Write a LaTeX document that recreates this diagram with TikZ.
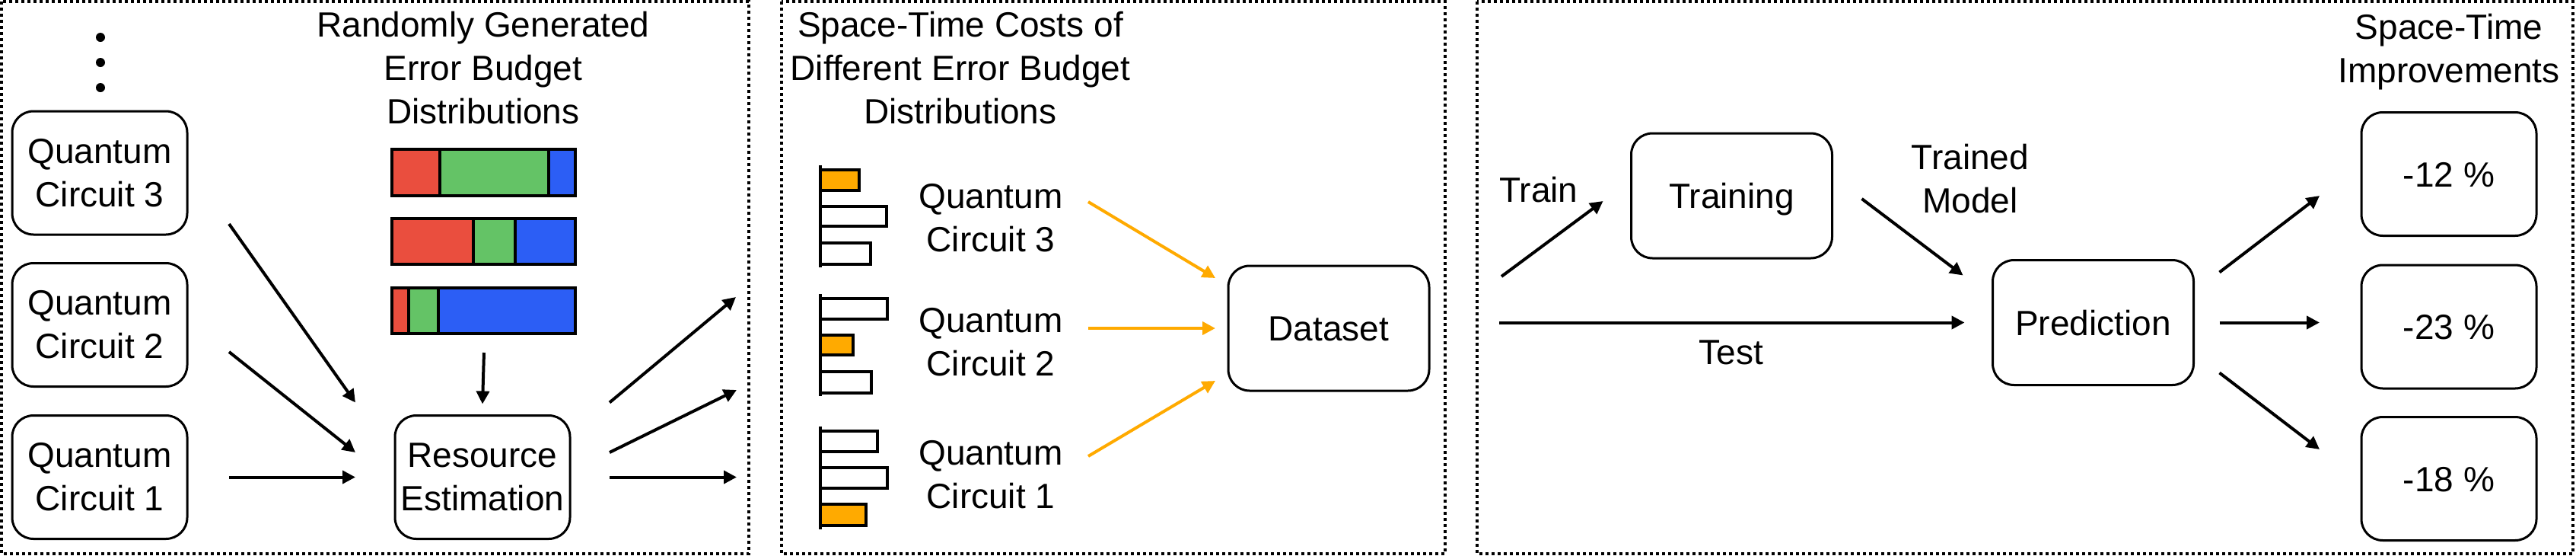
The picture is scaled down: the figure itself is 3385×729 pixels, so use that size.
\documentclass[tikz,border=0pt]{standalone}
\usepackage{fontspec}
\setmainfont{Liberation Sans}
\usetikzlibrary{arrows.meta,calc}
\definecolor{ebred}{RGB}{234,78,62}
\definecolor{ebgreen}{RGB}{100,195,102}
\definecolor{ebblue}{RGB}{44,94,245}
\definecolor{ebor}{RGB}{255,170,0}
\begin{document}
\begin{tikzpicture}[x=0.5pt,y=-0.5pt,
  every node/.style={font=\fontsize{23}{28.5}\selectfont, inner sep=0pt, outer sep=0pt},
  panel/.style={line width=2pt, dash pattern=on 2pt off 2pt},
  box/.style={draw, line width=1.5pt, rounded corners=14pt, minimum width=115pt, minimum height=81pt, align=center},
  onebox/.style={box, text height=16.8pt, text depth=0pt},
  widebox/.style={onebox, minimum width=132pt, minimum height=82pt},
  arr/.style={line width=2pt, -{Triangle[length=8.5pt,width=8.5pt]}},
  oarr/.style={arr, color=ebor},
  lab/.style={align=center},
  barln/.style={line width=2pt},
]
\useasboundingbox (0,0) rectangle (3385,729);

% panels
\draw[panel] (2,2) rectangle (984,727);
\draw[panel] (1027,2) rectangle (1899,727);
\draw[panel] (1941,2) rectangle (3381,727);

% ---------- panel 1 ----------
\fill (132,49) circle[radius=3pt];
\fill (132,82) circle[radius=3pt];
\fill (132,115) circle[radius=3pt];

\node[box] (qc3) at (131,227) {Quantum\\Circuit 3};
\node[box] (qc2) at (131,426.5) {Quantum\\Circuit 2};
\node[box] (qc1) at (131,626.5) {Quantum\\Circuit 1};
\node[box] (re) at (634,626.5) {Resource\\Estimation};
\node[lab] (t1) at (635,89) {Randomly Generated\\Error Budget\\Distributions};

% error budget bars
\draw[barln, fill=ebred]   (515,196) rectangle (578,257);
\draw[barln, fill=ebgreen] (578,196) rectangle (721,257);
\draw[barln, fill=ebblue]  (721,196) rectangle (756,257);
\draw[barln, fill=ebred]   (515,287) rectangle (622,347);
\draw[barln, fill=ebgreen] (622,287) rectangle (677,347);
\draw[barln, fill=ebblue]  (677,287) rectangle (756,347);
\draw[barln, fill=ebred]   (515,378) rectangle (537,438);
\draw[barln, fill=ebgreen] (537,378) rectangle (576,438);
\draw[barln, fill=ebblue]  (576,378) rectangle (756,438);
\coordinate (bars) at (636,438);

\draw[arr] ([shift={(55,-14)}]qc3.south east) -- ([shift={(-52,-17)}]re.north west);
\draw[arr] ([shift={(55,35.5)}]qc2.east) -- ([shift={(-52,-32.5)}]re.west);
\draw[arr] ([shift={(55,0)}]qc1.east) -- ([shift={(-52,0)}]re.west);
\draw[arr] ([shift={(0,25)}]bars) -- ([shift={(0,-15)}]re.north);
\coordinate (o1) at (967,390);
\coordinate (o2) at (968,512);
\coordinate (o3) at (968,626.5);
\draw[arr] ([shift={(52,-17)}]re.north east) -- (o1);
\draw[arr] ([shift={(52,-32.5)}]re.east) -- (o2);
\draw[arr] ([shift={(52,0)}]re.east) -- (o3);

% ---------- panel 2 ----------
\node[lab] (t2) at (1262,89) {Space-Time Costs of\\Different Error Budget\\Distributions};

% chart 3
\draw[barln, fill=ebor] (1078,223) rectangle (1129,250);
\draw[barln] (1078,271) rectangle (1165,297);
\draw[barln] (1078,319) rectangle (1144,347);
\draw[barln] (1078,217) -- (1078,351);
% chart 2
\draw[barln] (1078,392) rectangle (1166,419);
\draw[barln, fill=ebor] (1078,440) rectangle (1121,466);
\draw[barln] (1078,488) rectangle (1145,516);
\draw[barln] (1078,386) -- (1078,520);
% chart 1
\draw[barln] (1078,566) rectangle (1153,593);
\draw[barln] (1078,614) rectangle (1166,641);
\draw[barln, fill=ebor] (1078,662) rectangle (1138,690);
\draw[barln] (1078,560) -- (1078,695);

\node[lab] (l3) at (1302,286) {Quantum\\Circuit 3};
\node[lab] (l2) at (1302,449) {Quantum\\Circuit 2};
\node[lab] (l1) at (1302,623) {Quantum\\Circuit 1};
\node[widebox] (ds) at (1746,431) {Dataset};

\draw[oarr] ([shift={(128,-21)}]l3.center) -- ([shift={(-17,16)}]ds.north west);
\draw[oarr] ([shift={(128,-18)}]l2.center) -- ([shift={(-17,0)}]ds.west);
\draw[oarr] ([shift={(128,-24)}]l1.center) -- ([shift={(-17,-13)}]ds.south west);

% ---------- panel 3 ----------
\node[lab] (t3) at (3218,68) {Space-Time\\Improvements};
\node[widebox] (tr) at (2275.5,257) {Training};
\node[widebox] (pred) at (2750.5,423.5) {Prediction};
\node[onebox] (r1) at (3218,228.5) {-12 \%};
\node[onebox] (r2) at (3218,429) {-23 \%};
\node[onebox] (r3) at (3218,628.5) {-18 \%};
\node[anchor=base] (ltrain) at (2022,265) {Train};
\node[anchor=base] (ltest) at (2275,478) {Test};
\node[lab] (lmodel) at (2589,234.5) {Trained\\Model};

\coordinate (trs) at (1973,363);
\coordinate (tes) at (1970,423.5);
\draw[arr] (trs) -- ([shift={(-37,7)}]tr.west);
\draw[arr] (tes) -- ([shift={(-37,0)}]pred.west);
\draw[arr] ([shift={(39,4)}]tr.east) -- ([shift={(-39,20)}]pred.north west);
\draw[arr] ([shift={(34,16)}]pred.north east) -- ([shift={(-55,28.5)}]r1.west);
\draw[arr] ([shift={(34,0)}]pred.east) -- ($(pred.east -| r2.west)+(-55,0)$);
\draw[arr] ([shift={(34,-16)}]pred.south east) -- ([shift={(-55,-38.5)}]r3.west);
\end{tikzpicture}
\end{document}
